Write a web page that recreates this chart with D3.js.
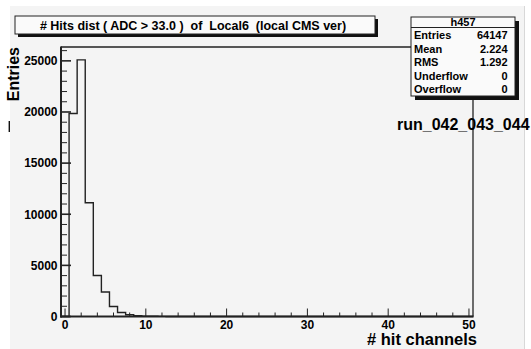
<!DOCTYPE html>
<html>
<head>
<meta charset="utf-8">
<script src="https://cdn.jsdelivr.net/npm/d3@7"></script>
<style>
  body { margin: 0; background: #fff; }
  text { font-family: "Liberation Sans", Arial, sans-serif; font-weight: bold; fill: #000; }
</style>
</head>
<body>
<svg id="chart" width="531" height="349"></svg>
<script>
// bin centres 0..50, contents
const binCenters = d3.range(0, 51);
const counts = [0, 19850, 25100, 11130, 4010, 2390, 980, 390, 170, 80, 40, 20, 10, 5]
  .concat(d3.range(14, 51).map(() => 0));
const xTicks = [0, 10, 20, 30, 40, 50];
const yTicks = [0, 5000, 10000, 15000, 20000, 25000];
const statsLabels = ["Entries", "Mean", "RMS", "Underflow", "Overflow"];
const statsValues = ["64147", "2.224", "1.292", "0", "0"];

const svg = d3.select("#chart");

// pad
svg.append("rect").attr("x", 10).attr("y", 6).attr("width", 515).attr("height", 350)
  .attr("fill", "#f4f4f4");
svg.append("line").attr("x1", 524.5).attr("x2", 524.5).attr("y1", 6).attr("y2", 349)
  .attr("stroke", "#d8d8d8");

const frameL = 61, frameR = 473, frameT = 47, frameB = 316.5;

const x = d3.scaleLinear().domain([-0.5, 50.5]).range([frameL, frameR]);
const y = d3.scaleLinear().domain([0, d3.max(counts) * 1.05]).range([frameB, frameT]);

// histogram outline
const steps = [];
binCenters.forEach((c, i) => {
  steps.push([c - 0.5, counts[i]]);
  steps.push([c + 0.5, counts[i]]);
});
const line = d3.line().x(d => x(d[0])).y(d => y(d[1]));
svg.append("path").attr("d", line(steps)).attr("fill", "none")
  .attr("stroke", "#222").attr("stroke-width", 1.4);

// frame
svg.append("line").attr("x1", frameL).attr("x2", frameR).attr("y1", frameT).attr("y2", frameT)
  .attr("stroke", "#222").attr("stroke-width", 1.3);
svg.append("line").attr("x1", frameR).attr("x2", frameR).attr("y1", frameT).attr("y2", frameB)
  .attr("stroke", "#222").attr("stroke-width", 1.3);

// x axis: ticks pointing up
const xAxis = svg.append("g");
d3.range(0, 51, 2).forEach(v => {
  const major = v % 10 === 0;
  xAxis.append("line").attr("x1", x(v)).attr("x2", x(v))
    .attr("y1", frameB).attr("y2", frameB - (major ? 8 : 4))
    .attr("stroke", "#222").attr("stroke-width", 1);
});
xAxis.selectAll("text").data(xTicks).join("text")
  .attr("x", d => x(d)).attr("y", 329).attr("text-anchor", "middle")
  .attr("font-size", 12).text(d => d);
xAxis.append("line").attr("x1", frameL - 1).attr("x2", frameR + 0.6).attr("y1", frameB).attr("y2", frameB)
  .attr("stroke", "#222").attr("stroke-width", 2);

// y axis: ticks pointing right
const yAxis = svg.append("g");
d3.range(0, 26001, 1000).forEach(v => {
  const major = v % 5000 === 0;
  yAxis.append("line").attr("x1", frameL).attr("x2", frameL + (major ? 10 : 6))
    .attr("y1", y(v)).attr("y2", y(v))
    .attr("stroke", "#222").attr("stroke-width", major ? 1.6 : 1);
});
yAxis.selectAll("text").data(yTicks).join("text")
  .attr("x", 57.5).attr("y", d => y(d) + 4.3).attr("text-anchor", "end")
  .attr("font-size", 12).text(d => d);
yAxis.append("line").attr("x1", frameL).attr("x2", frameL).attr("y1", frameT - 0.6).attr("y2", frameB + 1)
  .attr("stroke", "#222").attr("stroke-width", 2);

// axis titles
svg.append("text").attr("transform", "translate(19,47) rotate(-90)")
  .attr("text-anchor", "end").attr("font-size", 16).text("Entries");
svg.append("text").attr("x", 477).attr("y", 345).attr("text-anchor", "end")
  .attr("font-size", 16.5).text("# hit channels");

// title box
svg.append("rect").attr("x", 18).attr("y", 19).attr("width", 360).attr("height", 18).attr("fill", "#111");
svg.append("rect").attr("x", 15).attr("y", 16).attr("width", 360).attr("height", 18)
  .attr("fill", "#fafafa").attr("stroke", "#222").attr("stroke-width", 1);
svg.append("text").attr("x", 193).attr("y", 29.5).attr("text-anchor", "middle")
  .attr("font-size", 12.5).style("white-space", "pre")
  .text("# Hits dist ( ADC > 33.0 )  of  Local6  (local CMS ver)");

// stats box
const sx = 411, sy = 17, sw = 104, sh = 79;
svg.append("rect").attr("x", sx + 4).attr("y", sy + 4).attr("width", sw).attr("height", sh).attr("fill", "#111");
svg.append("rect").attr("x", sx).attr("y", sy).attr("width", sw).attr("height", sh)
  .attr("fill", "#fafafa").attr("stroke", "#222").attr("stroke-width", 1);
svg.append("line").attr("x1", sx).attr("x2", sx + sw).attr("y1", 27.5).attr("y2", 27.5)
  .attr("stroke", "#222").attr("stroke-width", 1);
svg.append("text").attr("x", sx + sw / 2).attr("y", 25.5).attr("text-anchor", "middle")
  .attr("font-size", 11).text("h457");
statsLabels.forEach((s, i) => {
  svg.append("text").attr("x", 414).attr("y", 39 + i * 13.6).attr("font-size", 11).text(s);
  svg.append("text").attr("x", 507.5).attr("y", 39 + i * 13.6).attr("text-anchor", "end")
    .attr("font-size", 11).text(statsValues[i]);
});

// run label
svg.append("text").attr("x", 397).attr("y", 130).attr("font-size", 16).text("run_042_043_044");

// stray mark at left edge
svg.append("line").attr("x1", 9.3).attr("x2", 9.3).attr("y1", 121).attr("y2", 132)
  .attr("stroke", "#111").attr("stroke-width", 1.4);
</script>
</body>
</html>
